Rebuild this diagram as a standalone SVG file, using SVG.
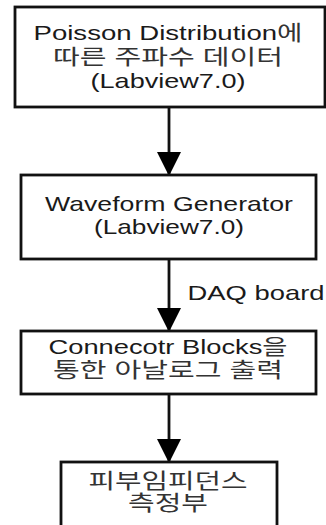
<svg xmlns="http://www.w3.org/2000/svg" width="326" height="525" viewBox="0 0 326 525">
<defs>
<style>
.box{fill:#fff;stroke:#111;stroke-width:2.8}
.t{font-family:"Liberation Sans","Noto Sans CJK KR",Arial,sans-serif;font-size:21px;fill:#1a1a1a;text-anchor:middle}
.k{fill:#333}
.c{stroke:#111;stroke-width:2.8;fill:none}
</style>
<marker id="ah" markerUnits="userSpaceOnUse" markerWidth="24" markerHeight="24" refX="23" refY="12" orient="auto" viewBox="0 0 24 24">
<path d="M0,0 L24,12 L0,24 Z" fill="#000"/>
</marker>
</defs>
<rect width="326" height="525" fill="#fff"/>
<g id="connectors">
<line class="c" x1="169" y1="107" x2="169" y2="175" marker-end="url(#ah)"/>
<line class="c" x1="169" y1="259" x2="169" y2="331" marker-end="url(#ah)"/>
<line class="c" x1="169" y1="394" x2="169" y2="462" marker-end="url(#ah)"/>
<text class="t" x="256" y="300" textLength="137" lengthAdjust="spacingAndGlyphs">DAQ board</text>
</g>
<g id="n1">
<rect class="box" x="15" y="7" width="310" height="100"/>
<text class="t" x="168" y="40" textLength="269" lengthAdjust="spacingAndGlyphs">Poisson Distribution<tspan class="k">에</tspan></text>
<text class="t k" x="168" y="64" textLength="230" lengthAdjust="spacingAndGlyphs">따른 주파수 데이터</text>
<text class="t" x="168" y="88" textLength="155" lengthAdjust="spacingAndGlyphs">(Labview7.0)</text>
</g>
<g id="n2">
<rect class="box" x="21" y="175" width="295" height="84"/>
<text class="t" x="169" y="211" textLength="248" lengthAdjust="spacingAndGlyphs">Waveform Generator</text>
<text class="t" x="169" y="234" textLength="150" lengthAdjust="spacingAndGlyphs">(Labview7.0)</text>
</g>
<g id="n3">
<rect class="box" x="21" y="331" width="295" height="63"/>
<text class="t" x="168" y="354" textLength="239" lengthAdjust="spacingAndGlyphs">Connecotr Blocks<tspan class="k">을</tspan></text>
<text class="t k" x="168" y="377" textLength="230" lengthAdjust="spacingAndGlyphs">통한 아날로그 출력</text>
</g>
<g id="n4">
<rect class="box" x="61" y="462" width="216" height="70"/>
<text class="t k" x="168" y="488" textLength="159" lengthAdjust="spacingAndGlyphs">피부임피던스</text>
<text class="t k" x="168" y="510" textLength="80" lengthAdjust="spacingAndGlyphs">측정부</text>
</g>
</svg>
